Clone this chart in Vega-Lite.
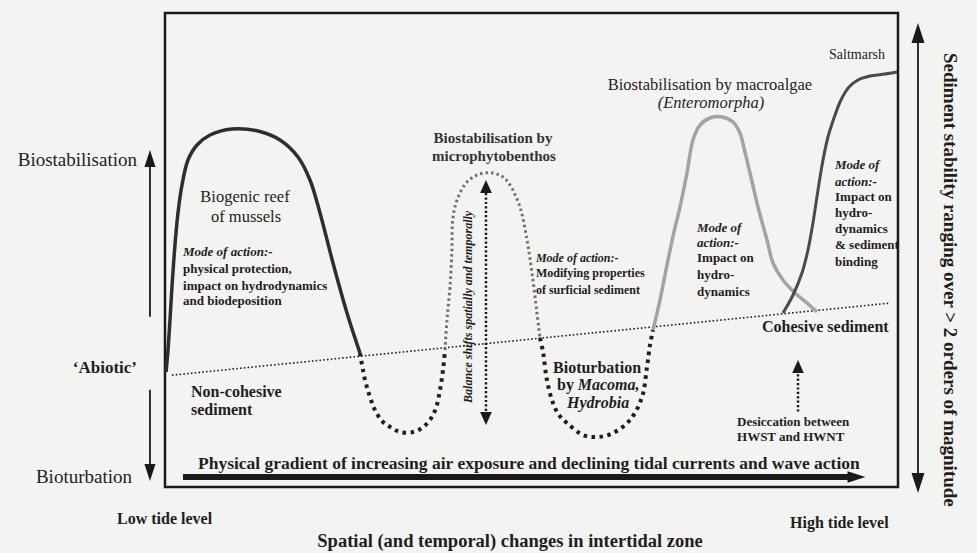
{
"$schema": "https://vega.github.io/schema/vega-lite/v6.json",
"width": 977, "height": 553,
"autosize": {"type": "fit", "contains": "padding"},
"padding": 0,
"background": "#f3f3f1",
"config": {"view": {"stroke": null}, "font": "Liberation Serif", "mark": {"font": "Liberation Serif"}, "text": {"font": "Liberation Serif", "color": "#1e1e1e"}},
"datasets": {
"frame": [{"x": 0, "x2": 100, "y": 0, "y2": 100}],
"curves": [
{"c":"abiotic","o":0,"x":0.95,"y":23.6},{"c":"abiotic","o":1,"x":98.9,"y":38.8},
{"c":"mussel","o":0,"x":0.14,"y":24.26},{"c":"mussel","o":1,"x":0.41,"y":28.9},{"c":"mussel","o":2,"x":0.68,"y":35.23},{"c":"mussel","o":3,"x":0.95,"y":42.19},{"c":"mussel","o":4,"x":1.36,"y":51.05},{"c":"mussel","o":5,"x":1.77,"y":57.81},{"c":"mussel","o":6,"x":2.32,"y":63.71},{"c":"mussel","o":7,"x":3.14,"y":68.99},{"c":"mussel","o":8,"x":4.37,"y":72.15},{"c":"mussel","o":9,"x":6.14,"y":74.26},{"c":"mussel","o":10,"x":9.14,"y":75.53},{"c":"mussel","o":11,"x":12.69,"y":75.11},{"c":"mussel","o":12,"x":15.69,"y":73.21},{"c":"mussel","o":13,"x":18.14,"y":69.62},{"c":"mussel","o":14,"x":19.78,"y":64.77},{"c":"mussel","o":15,"x":21.15,"y":57.81},{"c":"mussel","o":16,"x":22.92,"y":47.26},{"c":"mussel","o":17,"x":24.83,"y":36.71},{"c":"mussel","o":18,"x":26.6,"y":28.27},
{"c":"dotA","o":0,"x":26.6,"y":28.27},{"c":"dotA","o":1,"x":27.29,"y":22.57},{"c":"dotA","o":2,"x":27.97,"y":18.99},{"c":"dotA","o":3,"x":28.65,"y":16.24},{"c":"dotA","o":4,"x":29.74,"y":13.71},{"c":"dotA","o":5,"x":30.97,"y":12.45},{"c":"dotA","o":6,"x":32.06,"y":11.6},{"c":"dotA","o":7,"x":33.83,"y":11.6},{"c":"dotA","o":8,"x":35.06,"y":12.45},{"c":"dotA","o":9,"x":36.15,"y":14.14},{"c":"dotA","o":10,"x":36.97,"y":16.67},{"c":"dotA","o":11,"x":37.52,"y":20.46},{"c":"dotA","o":12,"x":37.93,"y":24.68},{"c":"dotA","o":13,"x":38.2,"y":28.9},
{"c":"hump","o":0,"x":38.2,"y":28.9},{"c":"hump","o":1,"x":38.47,"y":35.23},{"c":"hump","o":2,"x":38.88,"y":42.19},{"c":"hump","o":3,"x":39.15,"y":50.0},{"c":"hump","o":4,"x":39.25,"y":56.33},{"c":"hump","o":5,"x":39.84,"y":60.55},{"c":"hump","o":6,"x":41.2,"y":64.35},{"c":"hump","o":7,"x":42.97,"y":66.03},{"c":"hump","o":8,"x":44.75,"y":66.24},{"c":"hump","o":9,"x":46.11,"y":65.4},{"c":"hump","o":10,"x":47.07,"y":63.71},{"c":"hump","o":11,"x":48.43,"y":59.07},{"c":"hump","o":12,"x":49.39,"y":52.11},{"c":"hump","o":13,"x":50.07,"y":45.15},{"c":"hump","o":14,"x":50.75,"y":36.71},{"c":"hump","o":15,"x":51.16,"y":31.43},
{"c":"dotC","o":0,"x":51.16,"y":31.43},{"c":"dotC","o":1,"x":51.57,"y":28.48},{"c":"dotC","o":2,"x":52.11,"y":22.57},{"c":"dotC","o":3,"x":52.93,"y":17.72},{"c":"dotC","o":4,"x":53.75,"y":15.19},{"c":"dotC","o":5,"x":54.84,"y":13.5},{"c":"dotC","o":6,"x":57.03,"y":10.97},{"c":"dotC","o":7,"x":59.07,"y":10.55},{"c":"dotC","o":8,"x":61.12,"y":11.39},{"c":"dotC","o":9,"x":63.44,"y":14.14},{"c":"dotC","o":10,"x":65.08,"y":18.99},{"c":"dotC","o":11,"x":65.76,"y":25.32},{"c":"dotC","o":12,"x":66.17,"y":29.96},{"c":"dotC","o":13,"x":66.58,"y":33.12},
{"c":"gray","o":0,"x":66.58,"y":33.12},{"c":"gray","o":1,"x":67.53,"y":39.45},{"c":"gray","o":2,"x":68.49,"y":46.84},{"c":"gray","o":3,"x":69.44,"y":53.8},{"c":"gray","o":4,"x":70.26,"y":59.07},{"c":"gray","o":5,"x":71.21,"y":66.24},{"c":"gray","o":6,"x":72.03,"y":73.21},{"c":"gray","o":7,"x":72.99,"y":76.37},{"c":"gray","o":8,"x":74.35,"y":77.85},{"c":"gray","o":9,"x":75.99,"y":78.06},{"c":"gray","o":10,"x":77.49,"y":77.0},{"c":"gray","o":11,"x":78.44,"y":74.68},{"c":"gray","o":12,"x":78.99,"y":71.52},{"c":"gray","o":13,"x":79.81,"y":66.24},{"c":"gray","o":14,"x":80.9,"y":59.07},{"c":"gray","o":15,"x":82.13,"y":52.11},{"c":"gray","o":16,"x":82.95,"y":47.26},{"c":"gray","o":17,"x":84.31,"y":43.67},{"c":"gray","o":18,"x":85.95,"y":40.93},{"c":"gray","o":19,"x":87.59,"y":38.82},{"c":"gray","o":20,"x":88.95,"y":36.92},
{"c":"salt","o":0,"x":84.31,"y":36.71},{"c":"salt","o":1,"x":85.68,"y":40.51},{"c":"salt","o":2,"x":86.9,"y":45.15},{"c":"salt","o":3,"x":87.72,"y":50.0},{"c":"salt","o":4,"x":88.4,"y":55.7},{"c":"salt","o":5,"x":89.09,"y":62.66},{"c":"salt","o":6,"x":89.77,"y":68.99},{"c":"salt","o":7,"x":90.45,"y":73.84},{"c":"salt","o":8,"x":91.27,"y":77.85},{"c":"salt","o":9,"x":92.22,"y":81.65},{"c":"salt","o":10,"x":93.32,"y":84.39},{"c":"salt","o":11,"x":94.54,"y":85.86},{"c":"salt","o":12,"x":96.18,"y":86.71},{"c":"salt","o":13,"x":98.23,"y":87.13},{"c":"salt","o":14,"x":99.86,"y":87.55}
],
"shafts": [
{"a":"thin","x":-2.05,"y":35.9,"y2":68.8},
{"a":"thin","x":-2.05,"y":20.5,"y2":4.6},
{"a":"thin","x":102.73,"y":95.4,"y2":1.48},
{"a":"dotted","x":43.79,"y":62.0,"y2":15.8},
{"a":"dotted","x":86.36,"y":23.8,"y2":15.6},
{"a":"thick","x":2.46,"x2":93.45,"y":2.11}
],
"heads": [
{"h":"longUp","x":-2.05,"y":69.3},
{"h":"longDown","x":-2.05,"y":3.06},
{"h":"tallUp","x":102.73,"y":95.78},
{"h":"tallDown","x":102.73,"y":0.84},
{"h":"up","x":43.79,"y":63.4},
{"h":"down","x":43.79,"y":14.45},
{"h":"up","x":86.36,"y":25.42},
{"h":"right","x":94.34,"y":2.11}
],
"labels": [
{"g":"side","x":-3.82,"y":69.0,"text":"Biostabilisation"},
{"g":"side","x":-4.5,"y":2.1,"text":"Bioturbation"},
{"g":"abiotic","x":-3.82,"y":25.1,"text":"‘Abiotic’"},
{"g":"tide","x":-6.55,"y":-6.75,"text":"Low tide level"},
{"g":"tide","x":85.27,"y":-7.6,"text":"High tide level"},
{"g":"title","x":47.07,"y":-11.39,"text":"Spatial (and temporal) changes in intertidal zone"},
{"g":"vertical","x":107.1,"y":43.7,"text":"Sediment stability ranging over > 2 orders of magnitude"},
{"g":"head","x":10.91,"y":61.2,"text":"Biogenic reef"},
{"g":"head","x":11.05,"y":57.0,"text":"of mussels"},
{"g":"head","x":74.35,"y":84.8,"text":"Biostabilisation by macroalgae"},
{"g":"salt","x":94.41,"y":91.14,"text":"Saltmarsh"},
{"g":"headItalic","x":74.49,"y":81.0,"text":"(Enteromorpha)"},
{"g":"headBold","x":44.75,"y":73.6,"text":"Biostabilisation by"},
{"g":"headBold","x":44.88,"y":69.8,"text":"microphytobenthos"},
{"g":"mode","x":2.46,"y":49.6,"text":"Mode of action:-"},
{"g":"mode2","x":50.6,"y":48.3,"text":"Mode of action:-"},
{"g":"mode","x":72.58,"y":54.6,"text":"Mode of"},
{"g":"mode","x":72.58,"y":51.5,"text":"action:-"},
{"g":"mode","x":91.41,"y":67.9,"text":"Mode of"},
{"g":"mode","x":91.41,"y":64.3,"text":"action:-"},
{"g":"body","x":2.46,"y":46.0,"text":"physical protection,"},
{"g":"body","x":2.46,"y":42.4,"text":"impact on hydrodynamics"},
{"g":"body","x":2.46,"y":39.2,"text":"and biodeposition"},
{"g":"body2","x":50.6,"y":45.1,"text":"Modifying properties"},
{"g":"body2","x":50.6,"y":41.6,"text":"of surficial sediment"},
{"g":"body","x":72.58,"y":48.3,"text":"Impact on"},
{"g":"body","x":72.58,"y":44.7,"text":"hydro-"},
{"g":"body","x":72.58,"y":41.1,"text":"dynamics"},
{"g":"body","x":91.41,"y":61.2,"text":"Impact on"},
{"g":"body","x":91.41,"y":57.8,"text":"hydro-"},
{"g":"body","x":91.41,"y":54.4,"text":"dynamics"},
{"g":"body","x":91.41,"y":51.1,"text":"& sediment"},
{"g":"body","x":91.41,"y":47.5,"text":"binding"},
{"g":"body","x":78.04,"y":13.7,"text":"Desiccation between"},
{"g":"body","x":78.04,"y":10.5,"text":"HWST and HWNT"},
{"g":"big","x":81.45,"y":33.75,"text":"Cohesive sediment"},
{"g":"big","x":3.55,"y":20.0,"text":"Non-cohesive"},
{"g":"big","x":3.55,"y":16.2,"text":"sediment"},
{"g":"big","x":53.48,"y":21.5,"text":"by"},
{"g":"bigCenter","x":58.94,"y":25.1,"text":"Bioturbation"},
{"g":"bigItalic","x":56.3,"y":21.5,"text":"Macoma,"},
{"g":"bigItalic","x":54.84,"y":17.7,"text":"Hydrobia"},
{"g":"balance","x":41.34,"y":38.0,"text":"Balance shifts spatially and temporally"},
{"g":"gradient","x":4.5,"y":4.85,"text":"Physical gradient of increasing air exposure and declining tidal currents and wave action"}
]
},
"encoding": {
"x": {"field": "x", "type": "quantitative", "scale": {"domain": [-22.51, 110.78], "nice": false, "zero": false}, "axis": null},
"y": {"field": "y", "type": "quantitative", "scale": {"domain": [-13.92, 102.74], "nice": false, "zero": false}, "axis": null}
},
"layer": [
{"data": {"name": "frame"}, "mark": {"type": "rect", "filled": false, "stroke": "#1a1a1a", "strokeWidth": 2.5}, "encoding": {"x2": {"field": "x2"}, "y2": {"field": "y2"}}},
{"data": {"name": "curves"}, "transform": [{"filter": "datum.c === 'abiotic'"}], "mark": {"type": "line", "color": "#1e1e1e", "strokeWidth": 1.6, "strokeDash": [1.6, 2.2]}, "encoding": {"order": {"field": "o", "type": "quantitative"}}},
{"data": {"name": "curves"}, "transform": [{"filter": "datum.c === 'mussel'"}], "mark": {"type": "line", "interpolate": "catmull-rom", "color": "#2e2e2e", "strokeWidth": 3.5}, "encoding": {"order": {"field": "o", "type": "quantitative"}}},
{"data": {"name": "curves"}, "transform": [{"filter": "datum.c === 'dotA' || datum.c === 'dotC'"}], "mark": {"type": "line", "interpolate": "catmull-rom", "color": "#1e1e1e", "strokeWidth": 4, "strokeDash": [3.5, 4.5]}, "encoding": {"detail": {"field": "c"}, "order": {"field": "o", "type": "quantitative"}}},
{"data": {"name": "curves"}, "transform": [{"filter": "datum.c === 'hump'"}], "mark": {"type": "line", "interpolate": "catmull-rom", "color": "#707070", "strokeWidth": 3, "strokeDash": [2.5, 3]}, "encoding": {"order": {"field": "o", "type": "quantitative"}}},
{"data": {"name": "curves"}, "transform": [{"filter": "datum.c === 'gray'"}], "mark": {"type": "line", "interpolate": "catmull-rom", "color": "#a3a3a3", "strokeWidth": 3.5}, "encoding": {"order": {"field": "o", "type": "quantitative"}}},
{"data": {"name": "curves"}, "transform": [{"filter": "datum.c === 'salt'"}], "mark": {"type": "line", "interpolate": "catmull-rom", "color": "#4a4a4a", "strokeWidth": 3}, "encoding": {"order": {"field": "o", "type": "quantitative"}}},
{"data": {"name": "shafts"}, "transform": [{"filter": "datum.a === 'thin'"}], "mark": {"type": "rule", "color": "#1a1a1a", "strokeWidth": 1.8}, "encoding": {"y2": {"field": "y2"}}},
{"data": {"name": "shafts"}, "transform": [{"filter": "datum.a === 'dotted'"}], "mark": {"type": "rule", "color": "#1a1a1a", "strokeWidth": 2.5, "strokeDash": [2.2, 2.2]}, "encoding": {"y2": {"field": "y2"}}},
{"data": {"name": "shafts"}, "transform": [{"filter": "datum.a === 'thick'"}], "mark": {"type": "rule", "color": "#1a1a1a", "strokeWidth": 6}, "encoding": {"x2": {"field": "x2"}}},
{"data": {"name": "heads"}, "transform": [{"filter": "datum.h === 'longUp'"}], "mark": {"type": "point", "shape": "M0,-1L0.65,1L-0.65,1Z", "filled": true, "opacity": 1, "color": "#1a1a1a", "size": 289, "strokeWidth": 0}},
{"data": {"name": "heads"}, "transform": [{"filter": "datum.h === 'longDown'"}], "mark": {"type": "point", "shape": "M0,1L0.65,-1L-0.65,-1Z", "filled": true, "opacity": 1, "color": "#1a1a1a", "size": 289, "strokeWidth": 0}},
{"data": {"name": "heads"}, "transform": [{"filter": "datum.h === 'tallUp'"}], "mark": {"type": "point", "shape": "M0,-1L0.65,1L-0.65,1Z", "filled": true, "opacity": 1, "color": "#1a1a1a", "size": 400, "strokeWidth": 0}},
{"data": {"name": "heads"}, "transform": [{"filter": "datum.h === 'tallDown'"}], "mark": {"type": "point", "shape": "M0,1L0.65,-1L-0.65,-1Z", "filled": true, "opacity": 1, "color": "#1a1a1a", "size": 400, "strokeWidth": 0}},
{"data": {"name": "heads"}, "transform": [{"filter": "datum.h === 'up'"}], "mark": {"type": "point", "shape": "M0,-1L0.9,1L-0.9,1Z", "filled": true, "opacity": 1, "color": "#1a1a1a", "size": 169, "strokeWidth": 0}},
{"data": {"name": "heads"}, "transform": [{"filter": "datum.h === 'down'"}], "mark": {"type": "point", "shape": "M0,1L0.9,-1L-0.9,-1Z", "filled": true, "opacity": 1, "color": "#1a1a1a", "size": 169, "strokeWidth": 0}},
{"data": {"name": "heads"}, "transform": [{"filter": "datum.h === 'right'"}], "mark": {"type": "point", "shape": "M1,0L-1,0.65L-1,-0.65Z", "filled": true, "opacity": 1, "color": "#1a1a1a", "size": 324, "strokeWidth": 0}},
{"data": {"name": "labels"}, "transform": [{"filter": "datum.g === 'side'"}], "mark": {"type": "text", "font": "Times New Roman, Liberation Serif, serif", "align": "right", "baseline": "middle", "fontSize": 19}, "encoding": {"text": {"field": "text"}}},
{"data": {"name": "labels"}, "transform": [{"filter": "datum.g === 'abiotic'"}], "mark": {"type": "text", "font": "Liberation Serif", "align": "right", "baseline": "middle", "fontSize": 17, "fontWeight": "bold"}, "encoding": {"text": {"field": "text"}}},
{"data": {"name": "labels"}, "transform": [{"filter": "datum.g === 'tide'"}], "mark": {"type": "text", "font": "Liberation Serif", "align": "left", "baseline": "middle", "fontSize": 16, "fontWeight": "bold"}, "encoding": {"text": {"field": "text"}}},
{"data": {"name": "labels"}, "transform": [{"filter": "datum.g === 'title'"}], "mark": {"type": "text", "font": "Liberation Serif", "align": "center", "baseline": "middle", "fontSize": 18.5, "fontWeight": "bold"}, "encoding": {"text": {"field": "text"}}},
{"data": {"name": "labels"}, "transform": [{"filter": "datum.g === 'vertical'"}], "mark": {"type": "text", "font": "Liberation Serif", "align": "center", "baseline": "middle", "angle": 90, "fontSize": 19, "fontWeight": "bold"}, "encoding": {"text": {"field": "text"}}},
{"data": {"name": "labels"}, "transform": [{"filter": "datum.g === 'head'"}], "mark": {"type": "text", "font": "Times New Roman, Liberation Serif, serif", "align": "center", "baseline": "middle", "fontSize": 16.5}, "encoding": {"text": {"field": "text"}}},
{"data": {"name": "labels"}, "transform": [{"filter": "datum.g === 'salt'"}], "mark": {"type": "text", "font": "Times New Roman, Liberation Serif, serif", "align": "center", "baseline": "middle", "fontSize": 14}, "encoding": {"text": {"field": "text"}}},
{"data": {"name": "labels"}, "transform": [{"filter": "datum.g === 'headItalic'"}], "mark": {"type": "text", "font": "Times New Roman, Liberation Serif, serif", "align": "center", "baseline": "middle", "fontSize": 16.5, "fontStyle": "italic"}, "encoding": {"text": {"field": "text"}}},
{"data": {"name": "labels"}, "transform": [{"filter": "datum.g === 'headBold'"}], "mark": {"type": "text", "font": "Liberation Serif", "align": "center", "baseline": "middle", "fontSize": 15, "fontWeight": "bold", "color": "#333333"}, "encoding": {"text": {"field": "text"}}},
{"data": {"name": "labels"}, "transform": [{"filter": "datum.g === 'mode'"}], "mark": {"type": "text", "font": "Liberation Serif", "align": "left", "baseline": "middle", "fontSize": 13, "fontWeight": "bold", "fontStyle": "italic"}, "encoding": {"text": {"field": "text"}}},
{"data": {"name": "labels"}, "transform": [{"filter": "datum.g === 'mode2'"}], "mark": {"type": "text", "font": "Liberation Serif", "align": "left", "baseline": "middle", "fontSize": 12, "fontWeight": "bold", "fontStyle": "italic"}, "encoding": {"text": {"field": "text"}}},
{"data": {"name": "labels"}, "transform": [{"filter": "datum.g === 'body'"}], "mark": {"type": "text", "font": "Liberation Serif", "align": "left", "baseline": "middle", "fontSize": 13, "fontWeight": "bold"}, "encoding": {"text": {"field": "text"}}},
{"data": {"name": "labels"}, "transform": [{"filter": "datum.g === 'body2'"}], "mark": {"type": "text", "font": "Liberation Serif", "align": "left", "baseline": "middle", "fontSize": 12, "fontWeight": "bold"}, "encoding": {"text": {"field": "text"}}},
{"data": {"name": "labels"}, "transform": [{"filter": "datum.g === 'big'"}], "mark": {"type": "text", "font": "Liberation Serif", "align": "left", "baseline": "middle", "fontSize": 16, "fontWeight": "bold"}, "encoding": {"text": {"field": "text"}}},
{"data": {"name": "labels"}, "transform": [{"filter": "datum.g === 'bigCenter'"}], "mark": {"type": "text", "font": "Liberation Serif", "align": "center", "baseline": "middle", "fontSize": 16, "fontWeight": "bold"}, "encoding": {"text": {"field": "text"}}},
{"data": {"name": "labels"}, "transform": [{"filter": "datum.g === 'bigItalic'"}], "mark": {"type": "text", "font": "Liberation Serif", "align": "left", "baseline": "middle", "fontSize": 16, "fontWeight": "bold", "fontStyle": "italic"}, "encoding": {"text": {"field": "text"}}},
{"data": {"name": "labels"}, "transform": [{"filter": "datum.g === 'balance'"}], "mark": {"type": "text", "font": "Liberation Serif", "align": "center", "baseline": "middle", "angle": 270, "fontSize": 12, "fontWeight": "bold", "fontStyle": "italic"}, "encoding": {"text": {"field": "text"}}},
{"data": {"name": "labels"}, "transform": [{"filter": "datum.g === 'gradient'"}], "mark": {"type": "text", "font": "Liberation Serif", "align": "left", "baseline": "middle", "fontSize": 17.5, "fontWeight": "bold"}, "encoding": {"text": {"field": "text"}}}
]
}
